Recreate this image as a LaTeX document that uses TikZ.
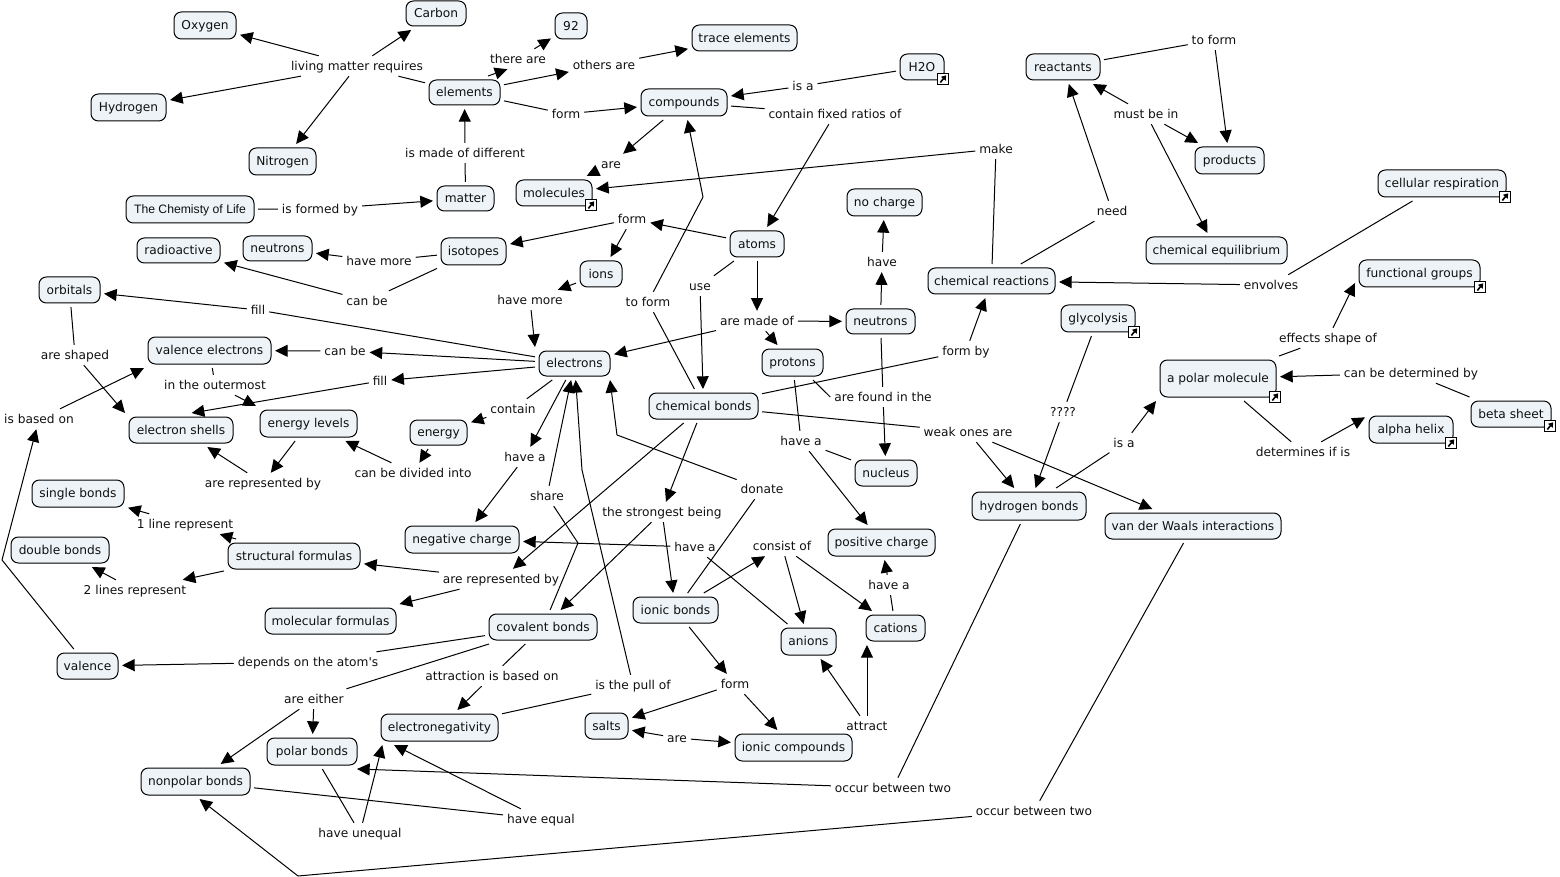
\documentclass[tikz,border=0pt]{standalone}
\usepackage{fontspec}
\setmainfont{DejaVu Sans}
\newfontfamily\arialfont{Liberation Sans}
\newfontfamily\plainfont{DejaVu Sans}
\usetikzlibrary{arrows.meta}
\definecolor{cfill}{HTML}{EDF3F6}
\definecolor{ink}{HTML}{101010}
\tikzset{
 cn/.style={draw=black,line width=0.75pt,fill=cfill,rounded corners=5.5pt,inner sep=0pt,outer sep=3pt,text=ink,text height=7.7pt,text depth=1.3pt,font=\fontsize{9.15}{11}\selectfont},
 lb/.style={inner sep=0.5pt,outer sep=2.5pt,text=ink,text height=8.3pt,text depth=1pt,font=\fontsize{9.15}{11}\selectfont},
 ln/.style={draw=black,line width=0.75pt},
 ar/.style={ln,-{Triangle[length=9.5pt,width=9pt]}},
 ic/.style={draw=black,line width=0.9pt,fill=white,minimum size=8.5pt,inner sep=0pt,outer sep=0pt},
}
\newcommand\cpt[6]{\node[cn,minimum width={(#3-#2)*0.75pt},minimum height={(#5-#4)*0.75pt}] (#1) at ({(#2+#3)/2},{(#4+#5)/2}) {#6};}
\newcommand\lab[4]{\node[lb] (#1) at (#2,#3) {#4};}
\newcommand\lnk[3]{\node[ic] (#1) at (#2,#3) {}; \draw[line width=1.2pt,-{Triangle[length=3.4pt,width=4.4pt]}] ([shift={(-2pt,-2.6pt)}]#1.center) -- ([shift={(2.4pt,2.8pt)}]#1.center);}
\begin{document}
\begin{tikzpicture}[x=0.75pt,y=-0.75pt]
\useasboundingbox (0,0) rectangle (1560,877);
% concepts
\cpt{oxygen}{174}{236}{12}{39}{Oxygen}
\cpt{carbon}{406}{466}{1}{26}{Carbon}
\cpt{hydrogen}{91}{166}{94}{121}{Hydrogen}
\cpt{nitrogen}{249}{316}{148}{175}{Nitrogen}
\cpt{elements}{429}{500}{80}{105}{elements}
\cpt{n92}{555}{587}{13}{39}{92}
\cpt{trace}{692}{797}{25}{51}{trace elements}
\cpt{water}{900}{944}{54}{80}{H2O}
\cpt{compounds}{641}{727}{89}{116}{compounds}
\cpt{reactants}{1026}{1100}{54}{80}{reactants}
\cpt{products}{1195}{1264}{147}{174}{products}
\cpt{molecules}{516}{592}{180}{206}{molecules}
\cpt{chemistry}{126}{254}{196}{223}{\arialfont The Chemisty of Life}
\cpt{matter}{437}{494}{186}{211}{matter}
\cpt{radioactive}{137}{220}{238}{263}{radioactive}
\cpt{neutronsa}{243}{312}{236}{261}{neutrons}
\cpt{isotopes}{441}{506}{238}{265}{isotopes}
\cpt{nocharge}{847}{922}{189}{216}{no charge}
\cpt{atoms}{730}{784}{231}{257}{atoms}
\cpt{ions}{580}{622}{261}{287}{ions}
\cpt{cellular}{1378}{1506}{170}{197}{cellular respiration}
\cpt{equilibrium}{1146}{1287}{237}{264}{chemical equilibrium}
\cpt{reactions}{928}{1055}{268}{294}{chemical reactions}
\cpt{functional}{1359}{1480}{260}{287}{functional groups}
\cpt{orbitals}{39}{100}{277}{303}{orbitals}
\cpt{glycolysis}{1061}{1135}{305}{332}{glycolysis}
\cpt{neutronsb}{846}{915}{309}{334}{neutrons}
\cpt{valenceel}{148}{271}{337}{364}{valence electrons}
\cpt{electrons}{539}{610}{351}{376}{electrons}
\cpt{protons}{762}{823}{349}{376}{protons}
\cpt{polarmol}{1160}{1276}{360}{397}{a polar molecule}
\cpt{beta}{1471}{1551}{401}{427}{beta sheet}
\cpt{alpha}{1369}{1453}{416}{443}{alpha helix}
\cpt{bonds}{649}{758}{393}{419}{chemical bonds}
\cpt{levels}{260}{357}{410}{437}{energy levels}
\cpt{shells}{129}{233}{417}{443}{electron shells}
\cpt{energy}{410}{467}{420}{445}{energy}
\cpt{nucleus}{855}{917}{460}{486}{nucleus}
\cpt{hbonds}{972}{1086}{492}{520}{hydrogen bonds}
\cpt{waals}{1105}{1281}{513}{539}{van der Waals interactions}
\cpt{negative}{405}{519}{526}{553}{negative charge}
\cpt{positive}{828}{935}{529}{556}{positive charge}
\cpt{single}{32}{124}{480}{507}{single bonds}
\cpt{double}{11}{109}{537}{563}{double bonds}
\cpt{structural}{228}{360}{543}{569}{structural formulas}
\cpt{molecular}{265}{396}{608}{634}{molecular formulas}
\cpt{covalent}{489}{597}{614}{640}{covalent bonds}
\cpt{ionic}{633}{718}{597}{623}{ionic bonds}
\cpt{anions}{781}{836}{628}{655}{anions}
\cpt{cations}{866}{925}{615}{641}{cations}
\cpt{valence}{57}{118}{653}{679}{valence}
\cpt{electroneg}{381}{498}{714}{741}{electronegativity}
\cpt{salts}{585}{628}{713}{739}{salts}
\cpt{icomp}{735}{852}{734}{761}{ionic compounds}
\cpt{polar}{267}{357}{738}{765}{polar bonds}
\cpt{nonpolar}{141}{250}{768}{795}{nonpolar bonds}
% link icons
\lnk{iwater}{943}{79}
\lnk{imolecules}{591}{205}
\lnk{icellular}{1505}{197}
\lnk{ifunctional}{1480}{287}
\lnk{iglycolysis}{1134}{332}
\lnk{ipolarmol}{1275}{397}
\lnk{ibeta}{1550}{426}
\lnk{ialpha}{1451}{443}
% linking phrases
\lab{lliving}{357}{66}{living matter requires}
\lab{lthere}{518}{59}{there are}
\lab{lothers}{604}{65}{others are}
\lab{lform}{566}{114}{form}
\lab{lisa}{803}{86}{is a}
\lab{lfixed}{835}{114}{contain fixed ratios of}
\lab{lare}{611}{164}{are}
\lab{ltoforma}{1214}{40}{to form}
\lab{lmust}{1146}{114}{must be in}
\lab{lmake}{996}{149}{make}
\lab{lmade}{465}{153}{is made of different}
\lab{lformed}{320}{209}{is formed by}
\lab{lformb}{632}{219}{form}
\lab{lneed}{1112}{211}{need}
\lab{lhave}{882}{262}{have}
\lab{lmorea}{379}{261}{have more}
\lab{lcanbea}{367}{301}{can be}
\lab{lmoreb}{530}{300}{have more}
\lab{luse}{700}{286}{use}
\lab{ltoformb}{648}{302}{to form}
\lab{lenvolves}{1271}{285}{envolves}
\lab{lfilla}{258}{310}{fill}
\lab{lmadeof}{757}{321}{are made of}
\lab{lshaped}{75}{355}{are shaped}
\lab{lcanbeb}{345}{351}{can be}
\lab{lformby}{966}{351}{form by}
\lab{loutermost}{215}{385}{in the outermost}
\lab{lfillb}{380}{381}{fill}
\lab{leffects}{1328}{338}{effects shape of}
\lab{ldetermined}{1411}{373}{can be determined by}
\lab{lbased}{39}{419}{is based on}
\lab{lcontain}{513}{409}{contain}
\lab{lfound}{883}{397}{are found in the}
\lab{lhavea}{801}{441}{have a}
\lab{ldivided}{413}{473}{can be divided into}
\lab{lhaveb}{525}{457}{have a}
\lab{lrepa}{263}{483}{are represented by}
\lab{ldonate}{762}{489}{donate}
\lab{lweak}{968}{432}{weak ones are}
\lab{lqq}{1063}{412}{????}
\lab{lisb}{1124}{443}{is a}
\lab{ldetermines}{1303}{452}{determines if is}
\lab{loneline}{185}{524}{1 line represent}
\lab{lshare}{547}{496}{share}
\lab{lstrongest}{662}{512}{the strongest being}
\lab{lhavec}{695}{547}{have a}
\lab{lconsist}{782}{546}{consist of}
\lab{lhaved}{889}{585}{have a}
\lab{ltwolines}{135}{590}{2 lines represent}
\lab{lrepb}{501}{579}{are represented by}
\lab{ldepends}{308}{662}{\plainfont depends on the atom's}
\lab{lattraction}{492}{676}{attraction is based on}
\lab{lformc}{735}{684}{form}
\lab{lpull}{633}{685}{is the pull of}
\lab{leither}{314}{699}{are either}
\lab{larec}{677}{738}{are}
\lab{lattract}{867}{726}{attract}
\lab{lequal}{541}{819}{have equal}
\lab{lunequal}{360}{833}{have unequal}
\lab{loccura}{893}{788}{occur between two}
\lab{loccurb}{1034}{811}{occur between two}
% bends
\coordinate (btoform) at (703,197);
\coordinate (bdonate) at (617,435);
\coordinate (bshare) at (578,543);
\coordinate (bpull) at (582,470);
\coordinate (bvalence) at (2,560);
\coordinate (bvander) at (298,876);
% connectors
\draw[ln] (elements) -- (lliving);
\draw[ar] (lliving) -- (oxygen);
\draw[ar] (lliving) -- (carbon);
\draw[ar] (lliving) -- (hydrogen);
\draw[ar] (lliving) -- (nitrogen);
\draw[ar] ([xshift=-12pt]elements.north east) -- ([xshift=-8pt]lthere.south);
\draw[ar] (lthere) -- (n92);
\draw[ar] (elements) -- (lothers);
\draw[ar] (lothers) -- (trace);
\draw[ln] (elements) -- (lform);
\draw[ar] (lform) -- (compounds);
\draw[ln] (water) -- (lisa);
\draw[ar] (lisa) -- (compounds);
\draw[ln] (compounds) -- (lfixed);
\draw[ar] (lfixed) -- (atoms);
\draw[ar] (compounds) -- (lare);
\draw[ar] (lare) -- ([xshift=-7pt]molecules.north east);
\draw[ln] (bonds) -- (ltoformb);
\draw[ln] (ltoformb) -- (btoform);
\draw[ar] (btoform) -- (compounds);
\draw[ln] (reactants) -- (ltoforma);
\draw[ar] (ltoforma) -- (products);
\draw[ar] (lmust) -- (reactants);
\draw[ar] (lmust) -- (products);
\draw[ar] (lmust) -- (equilibrium);
\draw[ln] (reactions) -- (lmake);
\draw[ar] (lmake) -- (molecules);
\draw[ln] (reactions) -- (lneed);
\draw[ar] (lneed) -- (reactants);
\draw[ln] (chemistry) -- (lformed);
\draw[ar] (lformed) -- (matter);
\draw[ln] (matter) -- (lmade);
\draw[ar] (lmade) -- (elements);
\draw[ar] (atoms) -- (lformb);
\draw[ar] (lformb) -- (isotopes);
\draw[ar] (lformb) -- (ions);
\draw[ln] (isotopes) -- (lmorea);
\draw[ar] (lmorea) -- (neutronsa);
\draw[ln] (isotopes) -- (lcanbea);
\draw[ar] (lcanbea) -- (radioactive);
\draw[ar] (ions) -- (lmoreb);
\draw[ar] (lmoreb) -- (electrons.north west);
\draw[ln] (atoms) -- (luse);
\draw[ar] (luse) -- (bonds);
\draw[ar] (atoms) -- (lmadeof);
\draw[ar] (lmadeof) -- (neutronsb);
\draw[ar] (lmadeof) -- (protons);
\draw[ar] (lmadeof) -- (electrons);
\draw[ar] (neutronsb) -- (lhave);
\draw[ar] (lhave) -- (nocharge);
\draw[ln] (neutronsb) -- (lfound);
\draw[ln] ([xshift=-10.5pt]protons.south east) -- (lfound.west);
\draw[ar] (lfound) -- (nucleus);
\draw[ln] (cellular) -- (lenvolves);
\draw[ar] (lenvolves) -- (reactions);
\draw[ln] (electrons) -- (lfilla);
\draw[ar] (lfilla) -- (orbitals);
\draw[ln] (orbitals) -- (lshaped);
\draw[ar] (lshaped) -- (shells.north west);
\draw[ar] (electrons) -- (lcanbeb);
\draw[ar] (lcanbeb) -- (valenceel);
\draw[ar] (electrons) -- (lfillb);
\draw[ar] (lfillb) -- ([xshift=8pt]shells.north);
\draw[ln] (valenceel) -- (loutermost);
\draw[ar] (loutermost) -- (levels.north west);
\draw[ln] (electrons) -- (lcontain);
\draw[ar] (lcontain) -- (energy);
\draw[ar] (energy) -- (ldivided);
\draw[ar] (ldivided) -- (levels);
\draw[ar] (levels) -- (lrepa);
\draw[ar] (lrepa) -- (shells);
\draw[ar] (electrons) -- (lhaveb);
\draw[ar] (lhaveb) -- (negative);
\draw[ln] (bonds) -- (lformby);
\draw[ar] (lformby) -- (reactions);
\draw[ln] (bonds) -- (lweak);
\draw[ar] (lweak) -- (hbonds);
\draw[ar] (lweak) -- (waals);
\draw[ar] (bonds) -- (lstrongest);
\draw[ar] (lstrongest) -- (ionic);
\draw[ar] (lstrongest) -- (covalent);
\draw[ar] (bonds) -- (lrepb);
\draw[ar] (lrepb) -- (structural);
\draw[ar] (lrepb) -- (molecular);
\draw[ar] (structural) -- (loneline);
\draw[ar] (loneline) -- (single);
\draw[ar] (structural) -- (ltwolines);
\draw[ar] (ltwolines) -- (double);
\draw[ln] (ionic) -- (ldonate);
\draw[ln] (ldonate) -- (bdonate);
\draw[ar] (bdonate) -- ([xshift=-3pt]electrons.south east);
\draw[ln] (covalent) -- (bshare);
\draw[ln] (bshare) -- (lshare);
\draw[ar] (lshare) -- (electrons);
\draw[ln] (electroneg) -- (lpull);
\draw[ln] (lpull) -- (bpull);
\draw[ar] (bpull) -- (electrons);
\draw[ar] (ionic) -- (lconsist);
\draw[ar] (lconsist) -- (anions);
\draw[ar] (lconsist) -- (cations);
\draw[ln] (anions) -- (lhavec);
\draw[ar] (lhavec) -- (negative);
\draw[ln] (cations) -- (lhaved);
\draw[ar] (lhaved) -- (positive);
\draw[ln] (protons) -- (lhavea);
\draw[ln] (nucleus) -- (lhavea);
\draw[ar] (lhavea) -- (positive);
\draw[ar] (ionic) -- (lformc);
\draw[ar] (lformc) -- (salts);
\draw[ar] (lformc) -- (icomp);
\draw[ar] (larec) -- (salts);
\draw[ar] (larec) -- (icomp);
\draw[ar] (lattract) -- (anions);
\draw[ar] (lattract.north) -- (lattract.north |- cations.south);
\draw[ln] (covalent) -- (ldepends);
\draw[ar] (ldepends) -- (valence);
\draw[ln] (covalent) -- (lattraction);
\draw[ar] (lattraction) -- (electroneg);
\draw[ln] (covalent) -- (leither);
\draw[ar] (leither) -- (polar);
\draw[ar] (leither) -- (nonpolar);
\draw[ln] (valence) -- (bvalence);
\draw[ar] (bvalence) -- (lbased);
\draw[ar] (lbased) -- (valenceel.south west);
\draw[ln] (polar) -- (lunequal);
\draw[ar] (lunequal) -- ([xshift=4pt]electroneg.south west);
\draw[ln] (nonpolar) -- (lequal);
\draw[ar] (lequal) -- ([xshift=12.75pt]electroneg.south west);
\draw[ln] (hbonds) -- (lisb);
\draw[ar] (lisb) -- (polarmol.south west);
\draw[ln] (hbonds) -- (loccura);
\draw[ar] (loccura) -- ([xshift=-3pt]polar.south east);
\draw[ln] (waals) -- (loccurb);
\draw[ln] (loccurb) -- (bvander);
\draw[ar] (bvander) -- ([xshift=3pt]nonpolar.south);
\draw[ln] (glycolysis) -- (lqq);
\draw[ar] (lqq) -- (hbonds);
\draw[ln] (polarmol) -- (leffects);
\draw[ar] (leffects) -- ([yshift=6pt]functional.south west);
\draw[ln] (beta) -- (ldetermined);
\draw[ar] (ldetermined) -- (polarmol);
\draw[ln] (polarmol) -- (ldetermines);
\draw[ar] (ldetermines) -- ([yshift=-4pt]alpha.north west);
\end{tikzpicture}
\end{document}
